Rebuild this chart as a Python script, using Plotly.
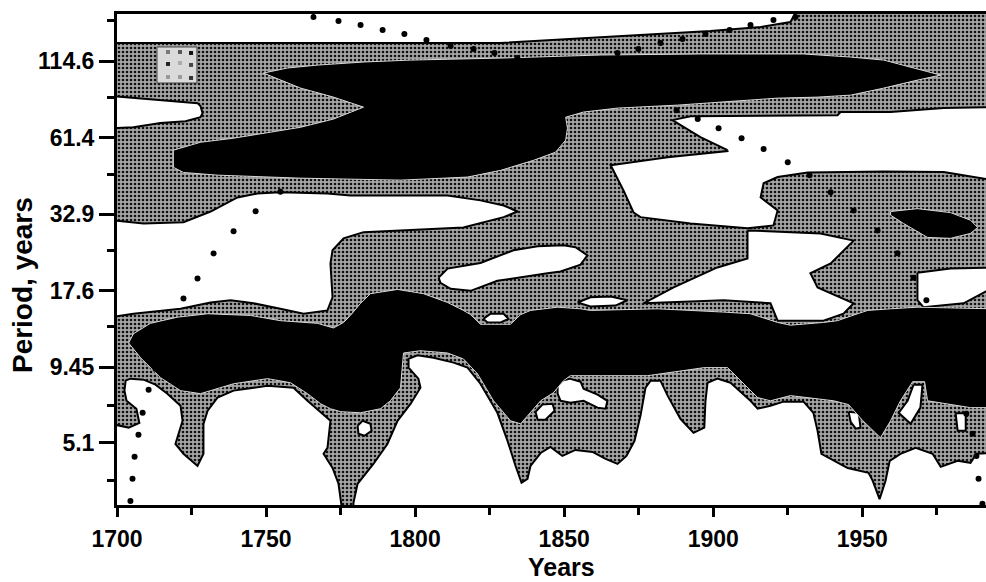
import plotly.graph_objects as go

# ---------------- axes ----------------
x_major = [1700, 1750, 1800, 1850, 1900, 1950]
x_minor = [1725, 1775, 1825, 1875, 1925, 1975]
y_major = [5.1, 9.45, 17.6, 32.9, 61.4, 114.6]
y_major_text = ["5.1", "9.45", "17.6", "32.9", "61.4", "114.6"]
y_minor = [3.74, 6.9, 13.2, 24.5, 45.6, 85.4, 158.9]
year_range = [1700, 1991.5]
period_range = [3.07, 168.2]

# ---------------- whole domain (moderate power, gray) ----------------
base_year = [1698, 1994, 1994, 1698]
base_period = [2.9, 2.9, 185, 185]

# ---------------- low power (white) regions ----------------
w1_year = [1698, 1929.5, 1925.9, 1915.9, 1899.1, 1882.3, 1865.6, 1848.8, 1828.7, 1698]
w1_period = [185, 185, 157.6, 151.3, 146.4, 142.9, 139.3, 136.0, 132.8, 132.8]

w2_year = [1698, 1705.5, 1713.6, 1727.0, 1728.0, 1728.7, 1728.0, 1723.0, 1714.6, 1705.5, 1698]
w2_period = [86.1, 84.7, 83.3, 81.3, 79.4, 74.9, 72.5, 70.2, 69.1, 66.8, 66.3]

w3_year = [1698, 1708.9, 1722.3, 1731.4, 1740.4, 1747.1, 1754.8, 1770.6, 1778.3, 1810.9,
           1821.9, 1829.7, 1834.4, 1829.7, 1816.2, 1794.1, 1782.7, 1776.0, 1772.3, 1771.6,
           1772.3, 1770.6, 1762.6, 1754.8, 1745.8, 1738.1, 1731.4, 1721.3, 1705.5, 1698]
w3_period = [31.3, 30.5, 30.8, 33.6, 37.7, 38.9, 39.3, 38.9, 38.3, 38.3,
             36.8, 35.3, 33.6, 32.1, 29.5, 28.8, 28.4, 27.0, 24.5, 22.0,
             16.7, 15.0, 14.6, 15.2, 15.9, 16.3, 16.0, 15.2, 14.6, 14.2]

w45_year = [1904.8, 1895.7, 1886.3, 1892.4, 1941.7, 1942.7, 1959.5, 1977.3, 1994, 1994,
            1977.3, 1957.2, 1931.7, 1921.6, 1916.9, 1915.9, 1921.6, 1920.2, 1911.5, 1892.4,
            1875.6, 1873.3, 1869.9, 1865.6, 1884.7, 1904.8]
w45_period = [55.4, 61.6, 70.8, 73.1, 73.7, 75.6, 75.6, 78.1, 78.7, 43.4,
              46.4, 46.6, 46.2, 44.5, 42.3, 37.7, 33.9, 30.0, 29.3, 30.5,
              32.1, 33.3, 39.9, 49.0, 52.3, 55.0]

w6_year = [1911.5, 1936.0, 1947.1, 1939.4, 1932.6, 1935.0, 1947.1, 1943.7, 1937.0, 1921.6,
           1919.2, 1903.5, 1876.6, 1886.7, 1901.4, 1911.5]
w6_period = [28.8, 28.1, 26.5, 22.0, 20.3, 18.1, 15.9, 14.6, 13.8, 13.8,
             15.9, 16.3, 15.9, 18.1, 21.3, 22.9]

w7_year = [1807.9, 1810.9, 1821.9, 1833.0, 1841.1, 1849.8, 1853.8, 1857.8, 1855.5, 1848.8,
           1844.4, 1827.6, 1818.6, 1811.9, 1808.5]
w7_period = [19.6, 21.1, 22.1, 24.5, 25.3, 25.5, 25.1, 23.5, 21.8, 20.6,
             20.3, 19.1, 17.6, 17.9, 18.8]

w8_year = [1968.5, 1979.6, 1994, 1994, 1984.0, 1970.5, 1968.5]
w8_period = [20.4, 21.1, 21.3, 18.1, 15.9, 15.4, 16.3]

w9_year = [1822.9, 1825.3, 1829.7, 1831.3, 1828.7, 1824.3]
w9_period = [14.0, 14.6, 14.6, 14.0, 13.6, 13.6]

w10_year = [1847.8, 1851.8, 1855.5, 1856.5, 1861.2, 1864.5, 1863.9, 1861.2, 1856.5, 1852.1, 1848.8, 1847.8]
w10_period = [8.39, 8.60, 8.39, 7.92, 7.55, 7.18, 6.73, 6.79, 7.18, 7.07, 7.18, 7.61]

w11_year = [1967.2, 1970.2, 1969.5, 1966.2, 1962.2, 1965.2]
w11_period = [8.19, 8.19, 6.79, 5.95, 6.51, 7.18]

w12_year = [1780.7, 1782.4, 1785.0, 1785.4, 1783.0, 1781.0]
w12_period = [5.86, 6.10, 5.95, 5.62, 5.40, 5.49]

w13_year = [1840.4, 1842.7, 1846.1, 1846.8, 1843.7, 1841.1]
w13_period = [6.57, 6.96, 7.01, 6.62, 6.15, 6.15]

w15_year = [1945.4, 1948.8, 1949.4, 1947.8, 1946.1]
w15_period = [6.57, 6.51, 5.77, 5.72, 6.05]

w16_year = [1854.5, 1858.8, 1865.6, 1871.2, 1867.2, 1858.8]
w16_period = [16.0, 16.7, 16.8, 16.3, 15.6, 15.5]

w18_year = [1981.3, 1984.7, 1984.7, 1982.0]
w18_period = [6.49, 6.49, 5.62, 5.62]

wb1_year = [1698, 1698, 1703.9, 1707.5, 1706.5, 1703.2, 1702.5, 1702.9, 1704.5, 1708.9,
            1712.9, 1716.9, 1721.3, 1722.0, 1719.6, 1722.3, 1727.0, 1729.0, 1729.0, 1730.4,
            1733.7, 1739.1, 1750.5, 1759.2, 1763.9, 1768.3, 1771.6, 1770.6, 1769.3, 1772.3,
            1774.3, 1775.6]
wb1_period = [2.9, 5.95, 5.77, 6.00, 6.73, 7.18, 7.80, 8.46, 8.60, 8.53,
              8.19, 7.61, 6.90, 6.10, 5.05, 4.66, 4.22, 4.66, 5.95, 6.62,
              7.37, 7.80, 8.12, 7.99, 7.18, 6.57, 6.10, 4.89, 4.66, 4.15,
              3.65, 2.9]

wb2_year = [1779.3, 1779.3, 1780.7, 1786.0, 1790.7, 1794.1, 1798.5, 1801.8, 1801.1, 1797.8,
            1797.8, 1800.8, 1806.2, 1812.9, 1817.6, 1821.9, 1827.6, 1831.0, 1833.7, 1835.7,
            1837.7, 1838.7, 1842.1, 1845.4, 1849.4, 1853.8, 1859.5, 1863.9, 1867.9, 1870.9,
            1873.6, 1875.6, 1877.3, 1879.0, 1882.3, 1884.7, 1889.0, 1893.4, 1897.0, 1897.4,
            1898.1, 1901.4, 1905.8, 1912.5, 1914.9, 1919.2, 1923.6, 1930.3, 1933.6, 1935.0,
            1936.3, 1945.1, 1952.1, 1953.5, 1955.8, 1957.8, 1959.2, 1962.8, 1967.9, 1973.6,
            1976.3, 1982.0, 1986.3, 1988.3, 1994, 1994]
wb2_period = [2.9, 3.12, 3.65, 4.29, 5.05, 6.10, 7.01, 7.99, 8.60, 9.41,
              10.1, 10.4, 10.2, 9.80, 9.41, 8.25, 6.51, 5.18, 4.22, 3.68,
              3.80, 4.22, 4.69, 4.93, 4.58, 4.81, 4.73, 4.47, 4.29, 4.58,
              5.18, 6.36, 7.99, 8.46, 8.46, 7.49, 6.20, 5.53, 5.77, 7.18,
              8.32, 8.60, 8.32, 7.18, 6.73, 6.90, 7.13, 7.13, 6.51, 5.62,
              4.66, 4.15, 3.99, 3.74, 3.22, 3.74, 4.40, 4.66, 4.89, 4.66,
              4.19, 4.40, 4.33, 4.66, 4.69, 2.9]

# ---------------- high power (black) regions ----------------
b1_year = [1749.1, 1757.2, 1767.3, 1782.7, 1798.5, 1828.7, 1862.2, 1895.7, 1930.3, 1946.1,
           1957.2, 1966.2, 1976.3, 1968.5, 1957.2, 1946.1, 1935.0, 1921.6, 1901.4, 1888.0,
           1867.9, 1856.5, 1850.5, 1851.1, 1850.5, 1847.1, 1839.7, 1828.7, 1817.6, 1795.1,
           1761.6, 1733.7, 1722.3, 1718.9, 1718.9, 1728.0, 1739.1, 1750.5, 1761.6, 1772.6,
           1782.7, 1772.6, 1761.6]
b1_period = [103.9, 108.3, 110.9, 113.7, 115.5, 117.4, 120.4, 121.4, 121.4, 118.4,
             115.5, 109.1, 102.2, 98.1, 91.9, 86.8, 85.4, 84.7, 82.0, 80.0,
             78.1, 75.6, 72.5, 66.3, 60.1, 54.5, 51.0, 47.0, 44.5, 43.4,
             44.1, 45.2, 46.2, 48.2, 55.4, 59.1, 61.1, 64.1, 66.8, 71.4,
             78.7, 85.4, 91.9]

b2_year = [1959.5, 1968.5, 1979.6, 1986.3, 1988.7, 1986.3, 1979.6, 1971.9, 1963.8, 1959.5]
b2_period = [33.6, 34.4, 33.3, 31.3, 29.5, 28.1, 27.0, 27.2, 30.5, 32.6]

b3_year = [1703.9, 1705.5, 1711.2, 1720.3, 1730.4, 1744.8, 1754.8, 1767.3, 1772.6, 1776.0,
           1778.3, 1781.7, 1785.0, 1794.1, 1802.8, 1810.9, 1816.2, 1818.6, 1821.9, 1832.0,
           1835.4, 1838.7, 1847.8, 1855.5, 1858.8, 1881.3, 1903.5, 1912.5, 1921.6, 1925.9,
           1937.0, 1941.7, 1948.4, 1951.8, 1959.5, 1968.5, 1994,
           1994, 1986.3, 1979.6, 1971.9, 1970.9, 1966.9, 1962.8, 1959.5, 1956.1, 1950.2,
           1945.4, 1940.4, 1925.9, 1919.2, 1914.9, 1909.2, 1904.8, 1897.0, 1878.0, 1862.2,
           1852.1, 1849.8, 1846.4, 1842.1, 1838.7, 1835.4, 1832.0, 1826.3, 1820.9, 1816.2,
           1810.9, 1801.8, 1796.1, 1795.8, 1795.1, 1791.7, 1788.4, 1781.7, 1775.0, 1771.6,
           1768.3, 1763.9, 1758.2, 1750.5, 1739.1, 1728.0, 1721.3, 1714.6, 1707.9]
b3_period = [11.5, 12.4, 13.5, 14.2, 14.6, 14.4, 13.8, 13.5, 13.0, 13.6,
             14.4, 15.9, 17.2, 17.8, 17.2, 16.0, 15.0, 14.5, 13.4, 13.4,
             14.5, 15.0, 15.4, 15.2, 15.0, 15.2, 14.8, 14.6, 13.6, 13.3,
             13.6, 13.8, 14.6, 15.0, 15.2, 15.4, 15.2,
             6.79, 6.79, 6.96, 7.18, 8.39, 8.39, 7.18, 6.10, 5.31, 6.10,
             6.96, 7.18, 7.49, 7.18, 7.37, 8.46, 9.41, 9.41, 8.81, 8.81,
             8.81, 8.46, 7.67, 7.18, 6.51, 5.95, 6.10, 7.18, 8.96, 10.1,
             10.6, 10.8, 10.6, 9.72, 7.99, 7.18, 6.73, 6.51, 6.57, 6.73,
             7.01, 7.61, 8.32, 8.60, 8.25, 7.61, 7.80, 8.67, 10.2]

# ---------------- cone of influence (dotted) ----------------
coi_left_year = [1704.5, 1705.2, 1705.9, 1707.2, 1708.6, 1710.6, 1712.9, 1715.6, 1718.6, 1722.3,
                 1727.0, 1732.4, 1739.1, 1746.5, 1754.8, 1763.9, 1773.3, 1783.4, 1793.5, 1803.5,
                 1813.6, 1823.7, 1833.8, 1843.9, 1854.0, 1867.9, 1874.9, 1882.3, 1889.7, 1897.4,
                 1905.5, 1912.5, 1920.2, 1927.6]
coi_left_period = [3.17, 3.80, 4.55, 5.44, 6.51, 7.86, 9.33, 11.17, 13.48, 16.53,
                   19.46, 23.88, 28.58, 33.65, 39.5, 46.0, 52.8, 60.0, 67.3, 74.5,
                   81.8, 89.1, 96.3, 103.6, 110.9, 122.4, 126.4, 132.8, 137.2, 142.9,
                   147.6, 153.8, 160.2, 164.2]
coi_right_year = [1765.9, 1774.3, 1781.7, 1789.1, 1796.4, 1803.8, 1811.9, 1819.6, 1826.6, 1834.3,
                  1842.1, 1849.8, 1857.5, 1865.2, 1872.9, 1880.6, 1887.7, 1894.8, 1901.8, 1909.5,
                  1916.9, 1925.0, 1932.3, 1939.4, 1947.1, 1955.1, 1961.8, 1967.2, 1971.5, 1974.5,
                  1977.5, 1980.2, 1982.6, 1984.9, 1987.0, 1988.3, 1989.0, 1990.3]
coi_right_period = [164.2, 158.9, 153.8, 147.6, 142.9, 136.0, 129.6, 126.4, 122.4, 117.5,
                    112.8, 108.2, 103.1, 98.1, 92.7, 86.8, 76.8, 71.4, 66.3, 61.1,
                    55.9, 50.2, 45.2, 39.3, 33.9, 28.8, 23.9, 19.6, 16.3, 13.4,
                    11.0, 9.03, 7.55, 6.46, 5.49, 4.58, 3.80, 3.10]

white_regions = [
    (w1_year, w1_period), (w2_year, w2_period), (w3_year, w3_period),
    (w45_year, w45_period), (w6_year, w6_period), (w7_year, w7_period),
    (w8_year, w8_period), (w9_year, w9_period), (w10_year, w10_period),
    (w11_year, w11_period), (w12_year, w12_period), (w13_year, w13_period),
    (w15_year, w15_period), (w16_year, w16_period), (w18_year, w18_period),
    (wb1_year, wb1_period), (wb2_year, wb2_period),
]
black_regions = [(b1_year, b1_period), (b2_year, b2_period), (b3_year, b3_period)]

FONT = "Liberation Sans, Arial, sans-serif"


def closed(seq):
    return list(seq) + [seq[0]]


fig = go.Figure()

fig.add_trace(go.Scatter(
    x=closed(base_year), y=closed(base_period), mode="lines", fill="toself",
    fillcolor="#a4a4a4",
    fillpattern=dict(shape=".", bgcolor="#a6a6a6", fgcolor="#111111",
                     size=4, solidity=0.35, fillmode="replace"),
    line=dict(width=0, color="rgba(0,0,0,0)"), hoverinfo="skip", showlegend=False))

for yrs, per in white_regions:
    fig.add_trace(go.Scatter(
        x=closed(yrs), y=closed(per), mode="lines", fill="toself", fillcolor="white",
        line=dict(color="black", width=2), hoverinfo="skip", showlegend=False))

for yrs, per in black_regions:
    fig.add_trace(go.Scatter(
        x=closed(yrs), y=closed(per), mode="lines", fill="toself", fillcolor="black",
        line=dict(color="#d8d8d8", width=1), hoverinfo="skip", showlegend=False))

for yrs, per in [(coi_left_year, coi_left_period), (coi_right_year, coi_right_period)]:
    fig.add_trace(go.Scatter(
        x=yrs, y=per, mode="markers",
        marker=dict(color="black", size=6, symbol="circle", line=dict(width=0)),
        hoverinfo="skip", showlegend=False))

# small light swatch in the upper-left corner of the panel
swatch_shapes = [dict(type="rect", xref="paper", yref="paper",
                      x0=0.046, x1=0.092, y0=0.8595, y1=0.9328,
                      fillcolor="#dadada", line=dict(color="#444444", width=1), layer="above")]
swatch_dots = [(0.0587, 0.9226, "#777777"), (0.0725, 0.9226, "#555555"), (0.0852, 0.9206, "#111111"),
               (0.0587, 0.8982, "#222222"), (0.0725, 0.9002, "#aaaaaa"), (0.0852, 0.8962, "#444444"),
               (0.0587, 0.8717, "#999999"), (0.0725, 0.8717, "#999999"), (0.0852, 0.8697, "#333333")]
for sx, sy, col in swatch_dots:
    swatch_shapes.append(dict(type="rect", xref="paper", yref="paper",
                              x0=sx - 0.0023, x1=sx + 0.0023, y0=sy - 0.004, y1=sy + 0.004,
                              fillcolor=col, line=dict(width=0), layer="above"))

fig.update_layout(
    width=986, height=582,
    margin=dict(l=117, r=0, t=14, b=77),
    paper_bgcolor="white", plot_bgcolor="white",
    showlegend=False,
    xaxis=dict(
        range=year_range, tickmode="array", tickvals=x_major,
        ticktext=[str(v) for v in x_major],
        ticks="outside", ticklen=9, tickwidth=3, tickcolor="black",
        showline=True, linewidth=3, linecolor="black", mirror=True,
        showgrid=False, zeroline=False, ticklabelstandoff=2, automargin=False,
        tickfont=dict(family=FONT, size=23, color="black", weight="bold"),
        minor=dict(tickvals=x_minor, ticks="outside", ticklen=7, tickwidth=3,
                   tickcolor="black", showgrid=False),
    ),
    yaxis=dict(
        type="log", range=[0.4871, 2.2258], tickmode="array",
        tickvals=y_major, ticktext=y_major_text,
        ticks="outside", ticklen=15, tickwidth=3, tickcolor="black",
        showline=True, linewidth=3, linecolor="black", mirror=False,
        showgrid=False, zeroline=False, ticklabelstandoff=0, automargin=False,
        tickfont=dict(family=FONT, size=23, color="black", weight="bold"),
        minor=dict(tickvals=y_minor, ticks="outside", ticklen=7, tickwidth=3,
                   tickcolor="black", showgrid=False),
    ),
    shapes=swatch_shapes,
    annotations=[
        dict(text="Period, years", xref="paper", yref="paper", x=-0.1093, y=0.448,
             textangle=-90, showarrow=False, xanchor="center", yanchor="middle",
             font=dict(family=FONT, size=28, color="black", weight="bold")),
        dict(text="Years", xref="paper", yref="paper", x=0.512, y=-0.1568,
             showarrow=False, xanchor="center", yanchor="bottom", borderpad=0,
             font=dict(family=FONT, size=25, color="black", weight="bold")),
    ],
)

fig.write_html(
    "out.html",
    config={"displayModeBar": False},
    post_script="document.body.style.margin='0px';document.body.style.overflow='hidden';",
)
